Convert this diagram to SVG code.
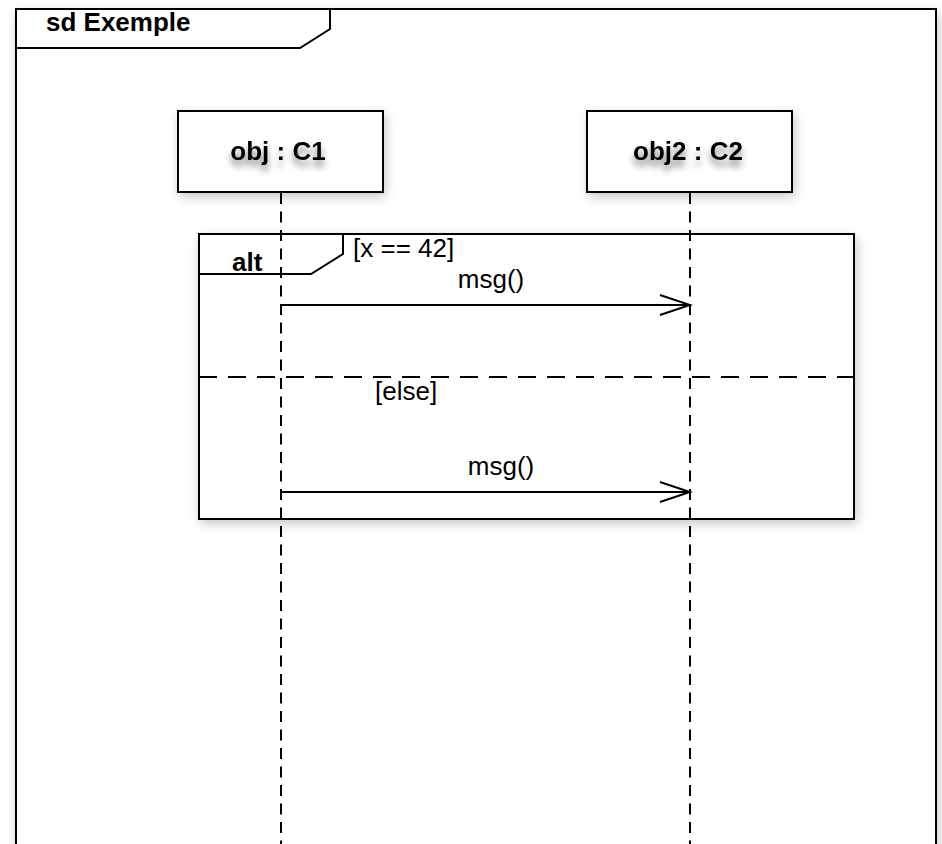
<svg xmlns="http://www.w3.org/2000/svg" width="942" height="844" viewBox="0 0 942 844">
<style>
.ln{fill:none;stroke:#000;stroke-width:2}
.box{fill:#fff;stroke:#000;stroke-width:2}
.life{fill:none;stroke:#000;stroke-width:2;stroke-dasharray:11 7.5}
.sep{fill:none;stroke:#000;stroke-width:2;stroke-dasharray:18 11}
.b{font-family:"Liberation Sans",Arial,sans-serif;font-weight:bold;fill:#000;font-size:26px}
.t{font-family:"Liberation Sans",Arial,sans-serif;fill:#000;font-size:26px}
</style>
<defs>
<filter id="sh" x="-10%" y="-10%" width="130%" height="130%">
<feGaussianBlur in="SourceAlpha" stdDeviation="6"/>
<feOffset dx="2" dy="4"/>
<feComponentTransfer><feFuncA type="linear" slope="0.22"/></feComponentTransfer>
<feMerge><feMergeNode/><feMergeNode in="SourceGraphic"/></feMerge>
</filter>
<filter id="tsh" x="-20%" y="-50%" width="140%" height="220%">
<feGaussianBlur in="SourceAlpha" stdDeviation="3.5"/>
<feOffset dx="0" dy="6"/>
<feComponentTransfer><feFuncA type="linear" slope="0.5"/></feComponentTransfer>
<feMerge><feMergeNode/><feMergeNode in="SourceGraphic"/></feMerge>
</filter>
<marker id="open" markerWidth="34" markerHeight="24" refX="31" refY="11" orient="auto" markerUnits="userSpaceOnUse">
<path d="M1,1 L31,11 L1,21" fill="none" stroke="#000" stroke-width="2"/>
</marker>
</defs>
<g id="frame">
<rect x="16" y="9" width="920" height="850" class="box" filter="url(#sh)"/>
<path d="M16,9 H330 V29 L300,48 H16" class="ln"/>
<text x="46" y="31" class="b">sd Exemple</text>
</g>
<g id="obj1">
<rect x="178" y="111" width="205" height="81" class="box" filter="url(#sh)"/>
<text x="278" y="160" class="b" text-anchor="middle" filter="url(#tsh)">obj : C1</text>
</g>
<g id="obj2">
<rect x="587" y="111" width="205" height="81" class="box" filter="url(#sh)"/>
<text x="688" y="160" class="b" text-anchor="middle" filter="url(#tsh)">obj2 : C2</text>
</g>
<g id="alt">
<rect x="199" y="234" width="655" height="285" class="box" filter="url(#sh)"/>
<path d="M199,234 H343 V254 L311,274 H199" class="ln"/>
<text x="232" y="271" class="b">alt</text>
<text x="353" y="257" class="t">[x == 42]</text>
<line x1="199" y1="377" x2="854" y2="377" class="sep"/>
<text x="375" y="400" class="t">[else]</text>
</g>
<g id="connectors">
<line x1="281" y1="193" x2="281" y2="844" class="life"/>
<line x1="690" y1="193" x2="690" y2="844" class="life"/>
<line x1="281" y1="305" x2="690" y2="305" class="ln" marker-end="url(#open)"/>
<text x="491" y="288" class="t" text-anchor="middle">msg()</text>
<line x1="281" y1="492" x2="690" y2="492" class="ln" marker-end="url(#open)"/>
<text x="501" y="475" class="t" text-anchor="middle">msg()</text>
</g>
</svg>
